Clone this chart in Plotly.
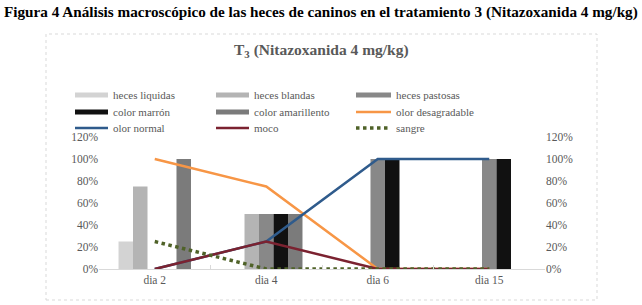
import plotly.graph_objects as go

categories = ["dia 2", "dia 4", "dia 6", "dia 15"]

bar_names = ["heces liquidas", "heces blandas", "heces pastosas", "color marrón", "color amarillento"]
heces_liquidas = [0.25, 0.0, 0.0, 0.0]
heces_blandas = [0.75, 0.50, 0.0, 0.0]
heces_pastosas = [0.0, 0.50, 1.0, 1.0]
color_marron = [0.0, 0.50, 1.0, 1.0]
color_amarillento = [1.0, 0.50, 0.0, 0.0]

line_names = ["olor desagradable", "olor normal", "moco", "sangre"]
olor_desagradable = [1.0, 0.75, 0.0, 0.0]
olor_normal = [0.0, 0.25, 1.0, 1.0]
moco = [0.0, 0.25, 0.0, 0.0]
sangre = [0.25, 0.0, 0.0, 0.0]

y_ticks = [0, 0.2, 0.4, 0.6, 0.8, 1.0, 1.2]

bar_series = [heces_liquidas, heces_blandas, heces_pastosas, color_marron, color_amarillento]
bar_colors = ["#d3d3d3", "#b4b4b4", "#888888", "#111111", "#7b7b7b"]
line_series = [olor_desagradable, olor_normal, moco, sangre]
line_colors = ["#f79646", "#2f5b8c", "#7b2230", "#4f6228"]
line_dashes = ["solid", "solid", "solid", "dot"]

SERIF = "Liberation Serif, Times New Roman, serif"
GRAY = "#595959"

fig = go.Figure()
for name, vals, col in zip(bar_names, bar_series, bar_colors):
    fig.add_trace(go.Bar(x=categories, y=vals, name=name, marker=dict(color=col, line=dict(width=0))))

for name, vals, col, dash in zip(line_names, line_series, line_colors, line_dashes):
    fig.add_trace(go.Scatter(x=categories, y=vals, name=name, mode="lines", yaxis="y2",
                             line=dict(color=col, width=2.5 if dash == "solid" else 3.5, dash=dash)))

# pixel -> paper helpers
L, R, T, B = 99, 545, 137, 269
def px(x):
    return (x - L) / (R - L)
def py(y):
    return (B - y) / (B - T)

fig.update_layout(
    width=642, height=305,
    margin=dict(l=L, r=642 - R, t=T, b=305 - B, autoexpand=False),
    paper_bgcolor="white", plot_bgcolor="white",
    barmode="group", bargap=0.35, bargroupgap=0,
    font=dict(family=SERIF, size=11, color=GRAY),
    showlegend=False,
    xaxis=dict(showgrid=False, showline=True, linecolor="#d9d9d9", linewidth=1,
               ticks="inside", tickson="boundaries", ticklen=4, tickcolor="#d9d9d9",
               tickfont=dict(family=SERIF, size=11.5, color=GRAY)),
    yaxis=dict(range=[0, 1.2], tickvals=y_ticks, tickformat=".0%", showgrid=False,
               zeroline=False, showline=False, ticks="",
               tickfont=dict(family=SERIF, size=11.5, color=GRAY)),
    yaxis2=dict(range=[0, 1.2], tickvals=y_ticks, tickformat=".0%", showgrid=False,
                zeroline=False, showline=False, overlaying="y", side="right", ticks="",
                tickfont=dict(family=SERIF, size=11.5, color=GRAY)),
)

fig.add_annotation(text="<b>Figura 4 Análisis macroscópico de las heces de caninos en el tratamiento 3 (Nitazoxanida 4 mg/kg)</b>",
                   xref="paper", yref="paper", x=px(321), y=py(12), showarrow=False,
                   font=dict(family=SERIF, size=15.2, color="black"), xanchor="center", yanchor="middle")
fig.add_annotation(text="<b>T<sub>3</sub> (Nitazoxanida 4 mg/kg)</b>",
                   xref="paper", yref="paper", x=px(321), y=py(51), showarrow=False,
                   font=dict(family=SERIF, size=15.5, color=GRAY), xanchor="center", yanchor="middle")

fig.add_shape(type="rect", xref="paper", yref="paper", x0=px(46), x1=px(597), y0=py(300), y1=py(34),
              line=dict(color="#d9d9d9", width=1, dash="dot"), layer="below")

# manual legend (3 columns x 3 rows), entries in series order
legend_names = bar_names + line_names
col_sw = [(75, 108), (216, 249), (356, 391)]
row_y = [95, 112, 128]
for i, name in enumerate(legend_names):
    r, c = divmod(i, 3)
    x0, x1 = col_sw[c]
    y = row_y[r]
    if i < len(bar_names):
        fig.add_shape(type="rect", xref="paper", yref="paper", x0=px(x0), x1=px(x1),
                      y0=py(y + 2.5), y1=py(y - 2.5), line=dict(width=0), fillcolor=bar_colors[i])
    else:
        j = i - len(bar_names)
        fig.add_shape(type="line", xref="paper", yref="paper", x0=px(x0), x1=px(x1),
                      y0=py(y), y1=py(y),
                      line=dict(color=line_colors[j], width=2.5 if line_dashes[j] == "solid" else 3.5,
                                dash=line_dashes[j]))
    fig.add_annotation(text=name, xref="paper", yref="paper", x=px(x1 + 3), y=py(y),
                       showarrow=False, xanchor="left", yanchor="middle",
                       font=dict(family=SERIF, size=11, color=GRAY))

fig.write_html("out.html", config={"displayModeBar": False},
               post_script="document.body.style.margin='0';")
